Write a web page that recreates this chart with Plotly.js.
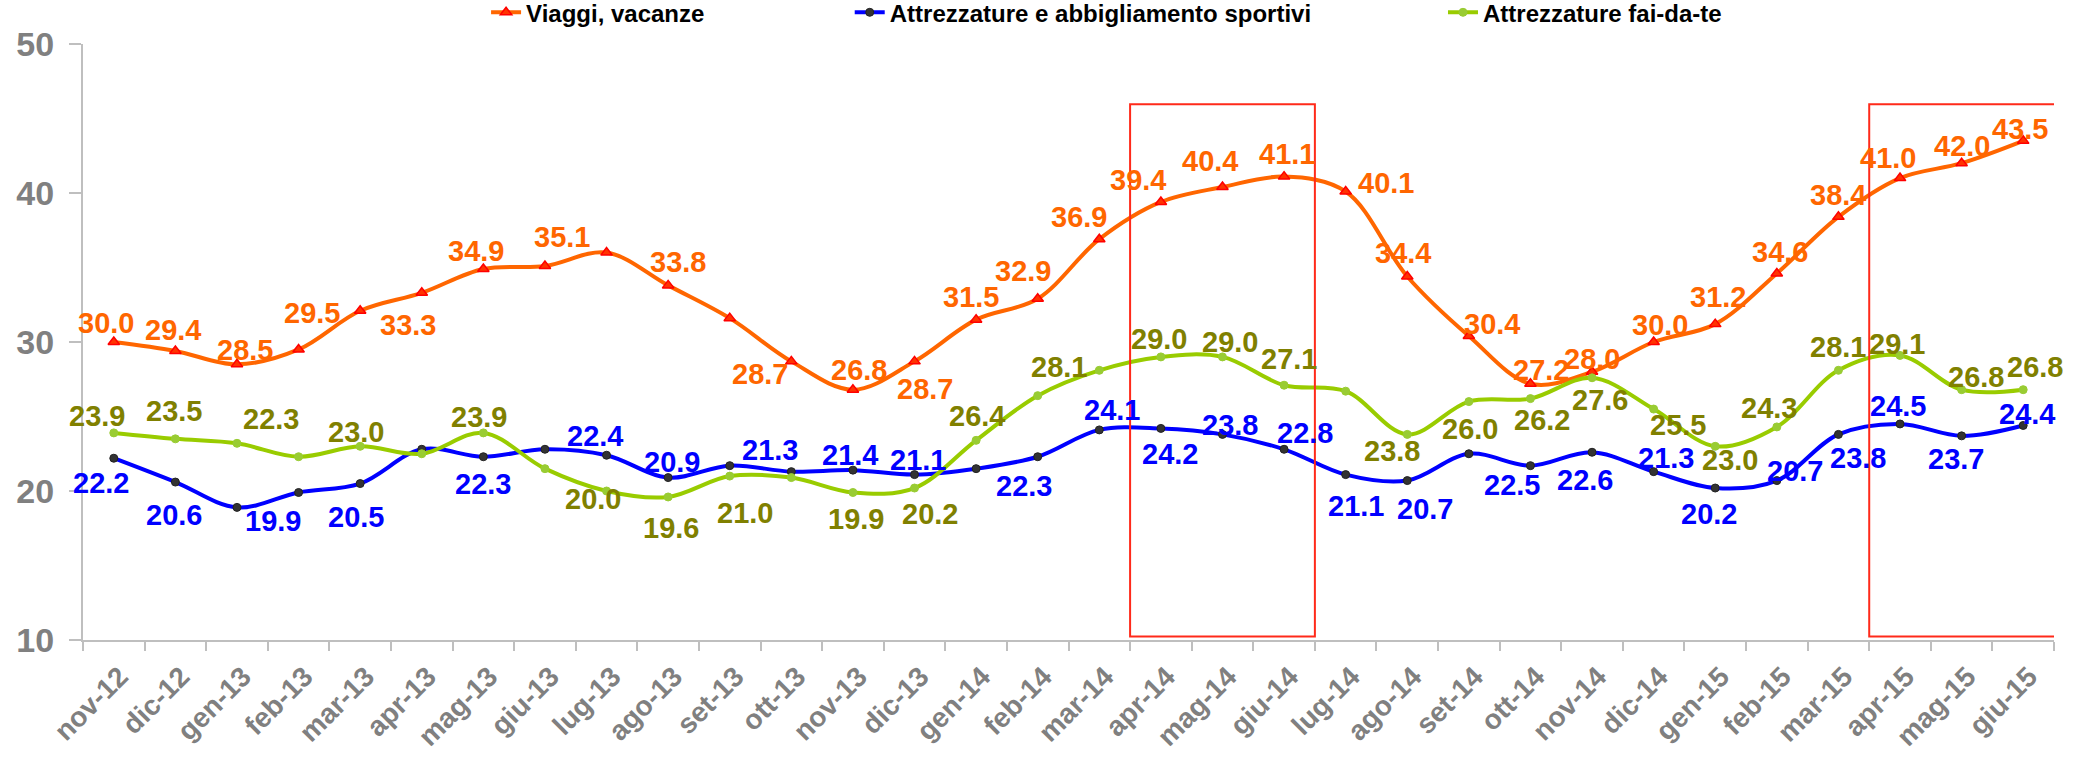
<!DOCTYPE html>
<html>
<head>
<meta charset="utf-8">
<script src="https://cdn.plot.ly/plotly-3.0.1.min.js"></script>
<style>
  html, body { margin: 0; padding: 0; background: #ffffff; }
  #chart { width: 2087px; height: 757px; }
</style>
</head>
<body>
<div id="chart"></div>
<script>
// ---- Data ----
const categories = ['nov-12','dic-12','gen-13','feb-13','mar-13','apr-13','mag-13','giu-13','lug-13','ago-13','set-13','ott-13','nov-13','dic-13','gen-14','feb-14','mar-14','apr-14','mag-14','giu-14','lug-14','ago-14','set-14','ott-14','nov-14','dic-14','gen-15','feb-15','mar-15','apr-15','mag-15','giu-15'];

const seriesNames = ['Viaggi, vacanze', 'Attrezzature e abbigliamento sportivi', 'Attrezzature fai-da-te'];

const viaggi   = [30.0, 29.4, 28.5, 29.5, 32.1, 33.3, 34.9, 35.1, 36.0, 33.8, 31.6, 28.7, 26.8, 28.7, 31.5, 32.9, 36.9, 39.4, 40.4, 41.1, 40.1, 34.4, 30.4, 27.2, 28.0, 30.0, 31.2, 34.6, 38.4, 41.0, 42.0, 43.5];
const sportivi = [22.2, 20.6, 18.9, 19.9, 20.5, 22.8, 22.3, 22.8, 22.4, 20.9, 21.7, 21.3, 21.4, 21.1, 21.5, 22.3, 24.1, 24.2, 23.8, 22.8, 21.1, 20.7, 22.5, 21.7, 22.6, 21.3, 20.2, 20.7, 23.8, 24.5, 23.7, 24.4];
const faidate  = [23.9, 23.5, 23.2, 22.3, 23.0, 22.5, 23.9, 21.5, 20.0, 19.6, 21.0, 20.9, 19.9, 20.2, 23.4, 26.4, 28.1, 29.0, 29.0, 27.1, 26.7, 23.8, 26.0, 26.2, 27.6, 25.5, 23.0, 24.3, 28.1, 29.1, 26.8, 26.8];

// points whose value label is not shown in the original
const viaggiNoLabel   = ['mar-13','lug-13','set-13'];
const sportiviNoLabel = ['gen-13','apr-13','giu-13','set-13','gen-14','ott-14'];
const faidateNoLabel  = ['gen-13','apr-13','giu-13','ott-13','gen-14','lug-14'];

// highlighted periods (red boxes)
const highlightFrom = ['apr-14', 'apr-15'];
const highlightTo   = ['giu-14', 'giu-15'];

// ---- Label placement (pixel offsets: [right, down]) ----
const viaggiOff = [[-8,-19],[-2,-21],[8,-14],[13,-36],null,[-14,32],[-7,-18],[17,-29],null,[10,-23],null,[-31,13],[6,-20],[10,28],[-5,-23],[-15,-28],[-20,-22],[-23,-22],[-12,-26],[3,-23],[40,-9],[-4,-23],[23,-12],[11,-14],[0,-13],[6,-17],[3,-27],[3,-21],[0,-22],[-12,-20],[0,-17],[-3,-12]];
const sportiviOff = [[-13,25],[-1,33],null,[-26,29],[-4,33],null,[0,27],null,[-12,-19],[4,-16],null,[-21,-22],[-3,-15],[3,-15],null,[-14,29],[13,-20],[9,26],[8,-9],[21,-16],[10,31],[18,28],[43,31],null,[-7,28],[12,-14],[-6,26],[18,-10],[20,24],[-2,-18],[-6,23],[4,-11]];
const faidateOff = [[-17,-17],[-1,-28],null,[-28,-38],[-4,-14],null,[-4,-16],null,[-14,8],[3,31],[15,37],null,[3,27],[15,26],null,[-61,20],[-40,-3],[-2,-18],[8,-15],[5,-26],null,[-15,17],[1,27],[12,21],[8,22],[24,16],[15,14],[-8,-19],[0,-23],[-3,-11],[14,-13],[12,-23]];

const FONT = 'Liberation Sans, Arial, sans-serif';

const traces = [
  {
    x: categories, y: viaggi, name: seriesNames[0], type: 'scatter', mode: 'lines+markers',
    line: {color: '#FF6600', width: 4, shape: 'spline', smoothing: 1},
    marker: {symbol: 'triangle-up', size: 10, color: '#FF3300', line: {color: '#FF0000', width: 1.5}},
    legend: 'legend', hoverinfo: 'x+y'
  },
  {
    x: categories, y: sportivi, name: seriesNames[1], type: 'scatter', mode: 'lines+markers',
    line: {color: '#0000FF', width: 4, shape: 'spline', smoothing: 1},
    marker: {symbol: 'circle', size: 8, color: '#333333', line: {color: '#222222', width: 1}},
    legend: 'legend2', hoverinfo: 'x+y'
  },
  {
    x: categories, y: faidate, name: seriesNames[2], type: 'scatter', mode: 'lines+markers',
    line: {color: '#99CC00', width: 4, shape: 'spline', smoothing: 1},
    marker: {symbol: 'circle', size: 8, color: '#99CC33', line: {color: '#99CC33', width: 1}},
    legend: 'legend3', hoverinfo: 'x+y'
  }
];

function makeLabels(values, offsets, hidden, color) {
  const out = [];
  values.forEach((v, i) => {
    if (hidden.indexOf(categories[i]) !== -1 || !offsets[i]) return;
    out.push({
      x: categories[i], y: v, xref: 'x', yref: 'y',
      text: v.toFixed(1), showarrow: false,
      xshift: offsets[i][0], yshift: -offsets[i][1],
      font: {family: FONT, size: 29, color: color, weight: 700}
    });
  });
  return out;
}

const annotations = []
  .concat(makeLabels(viaggi, viaggiOff, viaggiNoLabel, '#FF6600'))
  .concat(makeLabels(sportivi, sportiviOff, sportiviNoLabel, '#0000FF'))
  .concat(makeLabels(faidate, faidateOff, faidateNoLabel, '#808000'));

const shapes = highlightFrom.map((c, k) => ({
  type: 'rect', xref: 'x', yref: 'paper',
  x0: categories.indexOf(c) - 0.5,
  x1: categories.indexOf(highlightTo[k]) + 0.5 + (k === 1 ? 0.05 : 0),
  y0: 0.006, y1: 0.899,
  line: {color: '#FF2A1A', width: 2}, fillcolor: 'rgba(0,0,0,0)'
}));

const legendBase = {
  orientation: 'h', yanchor: 'middle', y: 1.0525, xanchor: 'left',
  font: {family: FONT, size: 24, color: '#000000', weight: 700},
  bgcolor: 'rgba(0,0,0,0)', borderwidth: 0
};

const layout = {
  width: 2087, height: 757,
  margin: {l: 83, r: 33, t: 44, b: 117, autoexpand: false},
  paper_bgcolor: '#ffffff', plot_bgcolor: '#ffffff',
  font: {family: FONT},
  showlegend: true,
  legend:  Object.assign({}, legendBase, {x: 0.2045}),
  legend2: Object.assign({}, legendBase, {x: 0.389}),
  legend3: Object.assign({}, legendBase, {x: 0.690}),
  xaxis: {
    type: 'category', range: [-0.5, categories.length - 0.5],
    tickangle: -45, tickson: 'boundaries', ticks: 'outside', ticklen: 9,
    tickcolor: '#BFBFBF', tickwidth: 2,
    showline: true, linecolor: '#BFBFBF', linewidth: 2,
    showgrid: false, zeroline: false, automargin: false,
    ticklabelstandoff: 7, ticklabelshift: 6,
    tickfont: {family: FONT, size: 28, color: '#808080', weight: 700}
  },
  yaxis: {
    range: [10, 50], dtick: 10, tick0: 10,
    ticks: 'outside', ticklen: 12, tickcolor: '#BFBFBF', tickwidth: 2,
    showline: true, linecolor: '#BFBFBF', linewidth: 2,
    showgrid: false, zeroline: false, automargin: false,
    ticklabelstandoff: 8,
    tickfont: {family: FONT, size: 34, color: '#808080', weight: 700}
  },
  annotations: annotations,
  shapes: shapes
};

Plotly.newPlot('chart', traces, layout, {displayModeBar: false, responsive: false});
</script>
</body>
</html>
